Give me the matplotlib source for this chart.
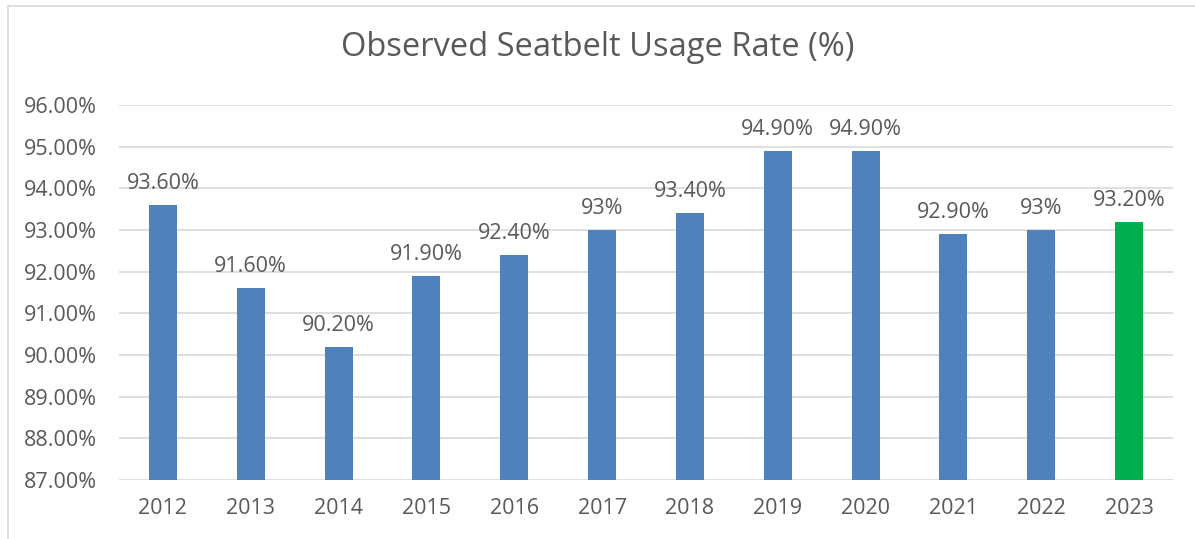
import matplotlib
matplotlib.use("Agg")
import matplotlib.pyplot as plt
from matplotlib.patches import Rectangle

years = ["2012", "2013", "2014", "2015", "2016", "2017", "2018", "2019", "2020", "2021", "2022", "2023"]
rates = [93.6, 91.6, 90.2, 91.9, 92.4, 93.0, 93.4, 94.9, 94.9, 92.9, 93.0, 93.2]
labels = ["93.60%", "91.60%", "90.20%", "91.90%", "92.40%", "93%", "93.40%", "94.90%", "94.90%", "92.90%", "93%", "93.20%"]
yticks = [87, 88, 89, 90, 91, 92, 93, 94, 95, 96]
colors = ["#4F81BD"] * 11 + ["#00B050"]

plt.rcParams['font.family'] = ['Open Sans', 'DejaVu Sans']
txt = "#595959"

fig = plt.figure(figsize=(11.95, 5.39), dpi=100)
ax = fig.add_axes([119/1195, 59/539, (1173-119)/1195, (480-105)/539])

x = list(range(len(years)))
ax.bar(x, rates, width=0.32, color=colors, bottom=0, zorder=3)
ax.set_ylim(87, 96)
ax.set_xlim(-0.5, len(years) - 0.5)
ax.set_yticks(yticks)
ax.set_yticklabels([f"{v:.2f}%" for v in yticks])
ax.set_xticks(x)
ax.set_xticklabels(years)
ax.tick_params(axis='both', length=0, labelsize=15.5, colors=txt)
ax.tick_params(axis='y', pad=16)
ax.tick_params(axis='x', pad=13)
ax.yaxis.grid(True, color="#D9D9D9", linewidth=1.2, zorder=0)
for s in ax.spines.values():
    s.set_visible(False)

for xi, r, lab in zip(x, rates, labels):
    ax.annotate(lab, (xi, r), xytext=(0, 8), textcoords="offset points",
                ha="center", va="bottom", fontsize=15.5, color=txt)

fig.text(0.5, 1 - 48/539, "Observed Seatbelt Usage Rate (%)", ha="center", va="center",
         fontsize=23.5, color=txt)

fig.patches.append(Rectangle((8/1195, -0.05), 1.2, 1 - 6/539 + 0.05, transform=fig.transFigure,
                             fill=False, edgecolor="#D9D9D9", linewidth=1.2))

fig.savefig("out.png", dpi=100)
